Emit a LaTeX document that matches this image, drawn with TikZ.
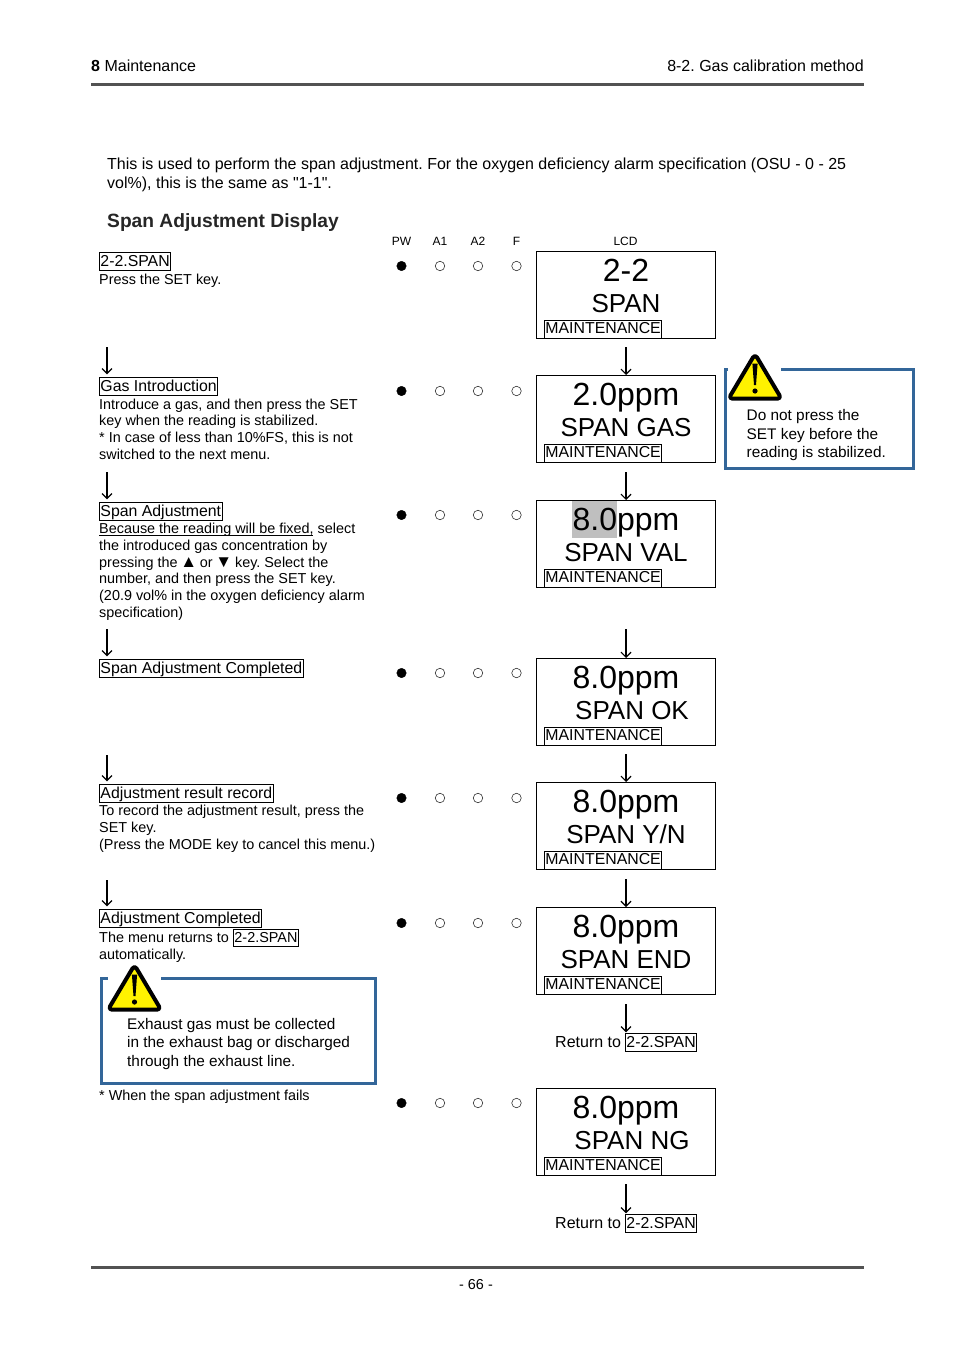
\documentclass[tikz,border=0pt]{standalone}
\usepackage{fontspec}
\setmainfont[Ligatures=TeXOff]{Liberation Sans}
\usetikzlibrary{calc,arrows.meta}
\frenchspacing

\newcommand{\bodysize}{\fontsize{14.4}{16.65}\selectfont}
\newcommand{\mainsize}{\fontsize{16}{18.6}\selectfont}
\newcommand{\tagsize}{\fontsize{15.85}{18.6}\selectfont}
\newcommand{\warnsize}{\fontsize{15.36}{18.6}\selectfont}
\newcommand{\keyup}{\makebox[14.3pt]{\fontsize{17}{16}\selectfont ▲}}
\newcommand{\keydown}{\makebox[14.3pt]{\fontsize{17}{16}\selectfont ▼}}
\newcommand{\fixline}{\rlap{\rule[-1.9pt]{214pt}{0.9pt}}}

\tikzset{
  flow/.style={-{Straight Barb[length=5pt,width=10pt]},line width=1.2pt,shorten >=3pt},
  txt/.style={anchor=base west,inner sep=0pt,align=left,font=\bodysize},
  warntxt/.style={anchor=base west,inner sep=0pt,align=left,font=\warnsize},
  tagbox/.style={draw,line width=0.9pt,anchor=base west,inner xsep=1pt,inner ysep=1.2pt,text height=12,text depth=3.5,font=\tagsize},
  tagsmall/.style={tagbox,text height=11,text depth=2.8,font=\bodysize},
  ledlabel/.style={anchor=base,inner sep=0pt,font=\fontsize{12}{12}\selectfont},
  ledon/.style={circle,fill=black,draw=black,inner sep=0pt,minimum size=9.5},
  ledoff/.style={circle,draw=black!80,line width=0.6pt,inner sep=0pt,minimum size=9.5},
  lcdbox/.style={draw,line width=0.9pt,minimum width=179,minimum height=87.2,inner sep=0pt},
  lcdval/.style={anchor=base,inner sep=0pt,font=\fontsize{32}{32}\selectfont},
  lcdmsg/.style={anchor=base,inner sep=0pt,font=\fontsize{26}{26}\selectfont},
  rule/.style={line width=3.2pt,draw=black!68},
  warnline/.style={line width=3pt,draw=warnblue},
  warnsign/.pic={
    \draw[fill=yellow,line width=4pt,line join=round,rounded corners=4pt] (0,0) -- (26.5,44.7) -- (-26.5,44.7) -- cycle;
    \fill (-2.6,9.5) -- (2.6,9.5) -- (1,31) -- (-1,31) -- cycle;
    \fill (0,37) circle (2.6);
  }
}
\definecolor{warnblue}{HTML}{336699}

\begin{document}
\begin{tikzpicture}[x=1pt,y=-1pt]

\path[use as bounding box,fill=white] (0,0) rectangle (954,1351);

\node[anchor=base west,inner sep=0pt,font=\mainsize] (chapter) at (91,72) {\textbf{8} Maintenance};
\node[anchor=base east,inner sep=0pt,font=\mainsize] (section) at (864,72) {8-2. Gas calibration method};
\draw[rule] (91,84.7) -- (864,84.7);

\node[anchor=base west,inner sep=0pt,align=left,font=\mainsize] (intro) at (107,188.3)
  {This is used to perform the span adjustment. For the oxygen deficiency alarm specification (OSU - 0 - 25\\
   vol\%), this is the same as "1-1".};
\node[anchor=base west,inner sep=0pt,font=\fontsize{19.2}{19.2}\selectfont\bfseries,text=black!85] (heading) at (107,227) {Span Adjustment Display};

\node[ledlabel] (pwlabel) at (401.5,245) {PW};
\node[ledlabel] (aonelabel) at (440,245) {A1};
\node[ledlabel] (atwolabel) at (478,245) {A2};
\node[ledlabel] (flabel) at (516.5,245) {F};
\node[ledlabel] (lcdlabel) at (625.5,245) {LCD};

\foreach \row/\yy in {a/266,b/391,c/515,d/673,e/798,f/923,g/1103}{
  \node[ledon] (pw\row) at (401.5,\yy) {};
  \node[ledoff] (aone\row) at (440,\yy) {};
  \node[ledoff] (atwo\row) at (478,\yy) {};
  \node[ledoff] (fl\row) at (516.5,\yy) {};
}

\fill[black!25] (572,501) rectangle (617,538);

\foreach \row/\yy/\val/\msg/\mx in {a/251/2-2/SPAN/626,b/375/2.0ppm/SPAN GAS/626,c/500/8.0ppm/SPAN VAL/626,d/658/8.0ppm/SPAN OK/632,e/782/8.0ppm/{SPAN Y/N}/626,f/907/8.0ppm/SPAN END/626,g/1088/8.0ppm/SPAN NG/632}{
  \node[lcdbox,anchor=north] (lcd\row) at (626,\yy) {};
  \node[lcdval] (val\row) at (626,\yy+30.5) {\val};
  \node[lcdmsg] (msg\row) at (\mx,\yy+61) {\msg};
  \node[tagbox] (mnt\row) at (544,\yy+82.7) {MAINTENANCE};
}

\node[tagbox] (titlea) at (99,266) {2-2.SPAN};
\node[txt] (texta) at (99,284) {Press the SET key.};

\node[tagbox] (titleb) at (99,391) {Gas Introduction};
\node[txt] (textb) at (99,459) {Introduce a gas, and then press the SET\\
  key when the reading is stabilized.\\
  * In case of less than 10\%FS, this is not\\
  switched to the next menu.};

\node[tagbox] (titlec) at (99,516) {Span Adjustment};
\node[txt] (textc) at (99,617) {\fixline Because the reading will be fixed, select\\
  the introduced gas concentration by\\
  pressing the \keyup{} or \keydown{} key. Select the\\
  number, and then press the SET key.\\
  (20.9 vol\% in the oxygen deficiency alarm\\
  specification)};

\node[tagbox] (titled) at (99,673) {Span Adjustment Completed};

\node[tagbox] (titlee) at (99,798) {Adjustment result record};
\node[txt] (texte) at (99,849) {To record the adjustment result, press the\\
  SET key.\\
  (Press the MODE key to cancel this menu.)};

\node[tagbox] (titlef) at (99,923) {Adjustment Completed};
\node[txt] (textf) at (99,942) {The menu returns to};
\node[tagsmall] (menutag) at (233,942) {2-2.SPAN};
\node[txt] (textg) at (99,959) {automatically.};

\node[txt] (textfail) at (99,1100.5) {* When the span adjustment fails};

\coordinate (la) at (107,347);
\coordinate (lb) at (107,472);
\coordinate (lc) at (107,629);
\coordinate (ld) at (107,755);
\coordinate (le) at (107,880);
\draw[flow] (la) -- (la |- titleb.north);
\draw[flow] (lb) -- (lb |- titlec.north);
\draw[flow] (lc) -- (lc |- titled.north);
\draw[flow] (ld) -- (ld |- titlee.north);
\draw[flow] (le) -- (le |- titlef.north);

\coordinate (ra) at (626,347);
\coordinate (rb) at (626,472);
\coordinate (rc) at (626,629);
\coordinate (rd) at (626,754);
\coordinate (re) at (626,879);
\coordinate (rf) at (626,1004);
\coordinate (rg) at (626,1184);
\draw[flow,shorten >=0pt] (ra) -- (lcdb.north);
\draw[flow,shorten >=0pt] (rb) -- (lcdc.north);
\draw[flow,shorten >=0pt] (rc) -- (lcdd.north);
\draw[flow,shorten >=0pt] (rd) -- (lcde.north);
\draw[flow,shorten >=0pt] (re) -- (lcdf.north);

\node[anchor=base west,inner sep=0pt,font=\mainsize] (returnf) at (555,1047) {Return to};
\node[tagbox] (tagf) at (625,1047) {2-2.SPAN};
\draw[flow,shorten >=1pt] (rf) -- (rf |- tagf.north);

\node[anchor=base west,inner sep=0pt,font=\mainsize] (returng) at (555,1228) {Return to};
\node[tagbox] (tagg) at (625,1228) {2-2.SPAN};
\draw[flow,shorten >=1pt] (rg) -- (rg |- tagg.north);

\draw[warnline] (781,369) -| (913.5,468) -| (725.8,369) -- (728,369);
\pic at (755,354) {warnsign};
\node[warntxt] (warnone) at (746.5,457.8) {Do not press the\\ SET key before the\\ reading is stabilized.};

\draw[warnline] (161,978) -| (375.5,1083) -| (101.5,978) -- (108,978);
\pic at (134.5,965) {warnsign};
\node[warntxt] (warntwo) at (127,1066.5) {Exhaust gas must be collected\\ in the exhaust bag or discharged\\ through the exhaust line.};

\draw[rule] (91,1267.2) -- (864,1267.2);
\node[anchor=base,inner sep=0pt,font=\bodysize] (page) at (476,1289) {- 66 -};

\end{tikzpicture}
\end{document}
